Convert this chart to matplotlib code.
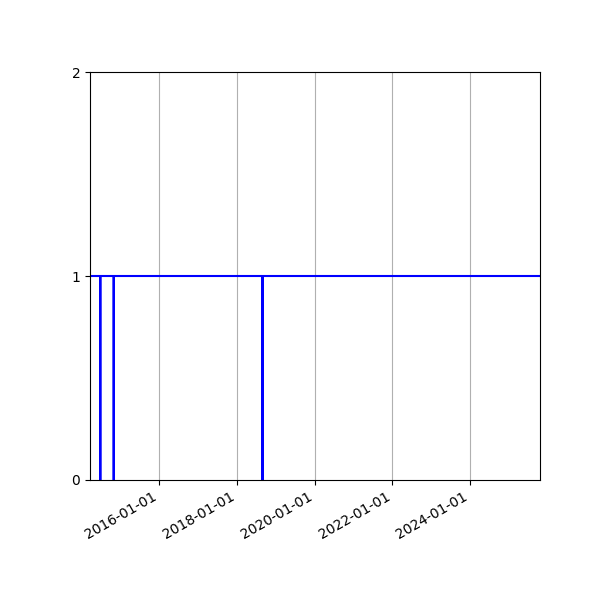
import matplotlib
matplotlib.use("Agg")
import matplotlib.pyplot as plt
import matplotlib.dates as mdates
import numpy as np
import pandas as pd

# breakpoints of the series (value 1 everywhere except single-day drops to 0)
dates = ["2014-03-20", "2014-06-24", "2014-06-25", "2014-06-26",
         "2014-10-28", "2014-10-29", "2014-10-30",
         "2018-08-27", "2018-08-28", "2018-08-29", "2025-10-20"]
values = [1, 1, 0, 1, 1, 0, 1, 1, 0, 1, 1]
yticks = [0, 1, 2]

x = pd.to_datetime(dates)

fig, ax = plt.subplots(figsize=(6, 6), dpi=100)
ax.plot(x, values, color="blue", linewidth=1.5)
ax.set_xlim(x[0], x[-1])
ax.set_ylim(0, 2)
ax.set_yticks(yticks)
ax.xaxis.set_major_locator(mdates.YearLocator(2))
ax.xaxis.set_major_formatter(mdates.DateFormatter("%Y-%m-%d"))
ax.grid(True, axis="x")
fig.autofmt_xdate()
fig.subplots_adjust(left=0.15, right=0.9, top=0.88, bottom=0.2)
fig.savefig("out.png", dpi=100)
